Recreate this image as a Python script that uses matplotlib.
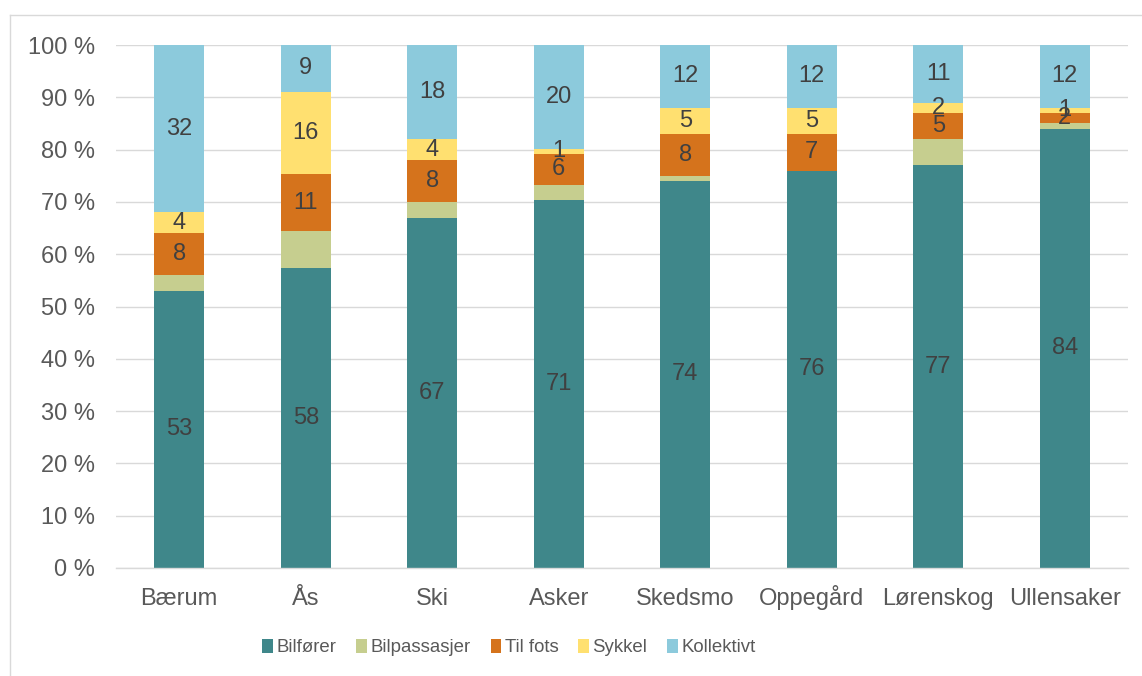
import matplotlib
matplotlib.use("Agg")
import matplotlib.pyplot as plt
from matplotlib.lines import Line2D
from matplotlib.patches import Patch
import numpy as np

plt.rcParams['font.family'] = ['Liberation Sans', 'DejaVu Sans']

kommuner = ["Bærum", "Ås", "Ski", "Asker", "Skedsmo", "Oppegård", "Lørenskog", "Ullensaker"]
bilforer = [53, 58, 67, 71, 74, 76, 77, 84]
bilpassasjer = [3, 7, 3, 3, 1, 0, 5, 1]
til_fots = [8, 11, 8, 6, 8, 7, 5, 2]
sykkel = [4, 16, 4, 1, 5, 5, 2, 1]
kollektivt = [32, 9, 18, 20, 12, 12, 11, 12]

serie_navn = ["Bilfører", "Bilpassasjer", "Til fots", "Sykkel", "Kollektivt"]
serie_data = [bilforer, bilpassasjer, til_fots, sykkel, kollektivt]
farger = ["#3F878A", "#C6CE8F", "#D5731C", "#FFE070", "#8CCADC"]
vis_etikett = [True, False, True, True, True]

W, H = 1142, 676
fig = plt.figure(figsize=(W / 100, H / 100), dpi=100)
ax = fig.add_axes([116 / W, 1 - 568 / H, (1128 - 116) / W, (568 - 45) / H])

data = np.array(serie_data, dtype=float)
totals = data.sum(axis=0)
andel = data / totals * 100

x = np.arange(len(kommuner))
bredde = 0.395
bunn = np.zeros(len(kommuner))
for navn, verdier, rå, farge, vis in zip(serie_navn, andel, serie_data, farger, vis_etikett):
    ax.bar(x, verdier, bredde, bottom=bunn, color=farge, label=navn, zorder=2)
    if vis:
        for xi, b, v, r in zip(x, bunn, verdier, rå):
            ax.text(xi, b + v / 2, f"{r}", ha="center", va="center",
                    fontsize=17, color="#404040", zorder=3)
    bunn += verdier

ax.set_xlim(-0.5, len(kommuner) - 0.5)
ax.set_ylim(0, 100)
ax.set_yticks(np.arange(0, 101, 10))
ax.set_yticklabels([f"{v} %" for v in range(0, 101, 10)])
ax.set_xticks(x)
ax.set_xticklabels(kommuner)
ax.tick_params(axis="both", length=0, labelsize=17, colors="#595959")
ax.tick_params(axis="y", pad=15)
ax.tick_params(axis="x", pad=26.5)
for lbl in ax.get_xticklabels():
    lbl.set_va("baseline")
ax.grid(axis="y", color="#D9D9D9", linewidth=1.0, zorder=0)
ax.set_axisbelow(True)
for s in ["top", "right", "left"]:
    ax.spines[s].set_visible(False)
ax.spines["bottom"].set_color("#D9D9D9")
ax.spines["bottom"].set_linewidth(1.0)

handles = [Patch(facecolor=f, label=n) for f, n in zip(farger, serie_navn)]
fig.legend(handles=handles, loc="center", bbox_to_anchor=(509 / W, 1 - 647.5 / H),
           ncol=5, frameon=False, handlelength=0.55, handleheight=0.78,
           handletextpad=0.2, columnspacing=1.08, labelcolor="#595959",
           borderpad=0, borderaxespad=0,
           prop={"family": ["Liberation Sans", "DejaVu Sans"], "size": 13.4})

# chart area frame
fig.add_artist(Line2D([10 / W, 1], [1 - 15 / H, 1 - 15 / H], transform=fig.transFigure,
                      color="#D9D9D9", linewidth=1.0))
fig.add_artist(Line2D([10 / W, 10 / W], [0, 1 - 15 / H], transform=fig.transFigure,
                      color="#D9D9D9", linewidth=1.0))

fig.savefig("out.png", dpi=100)
